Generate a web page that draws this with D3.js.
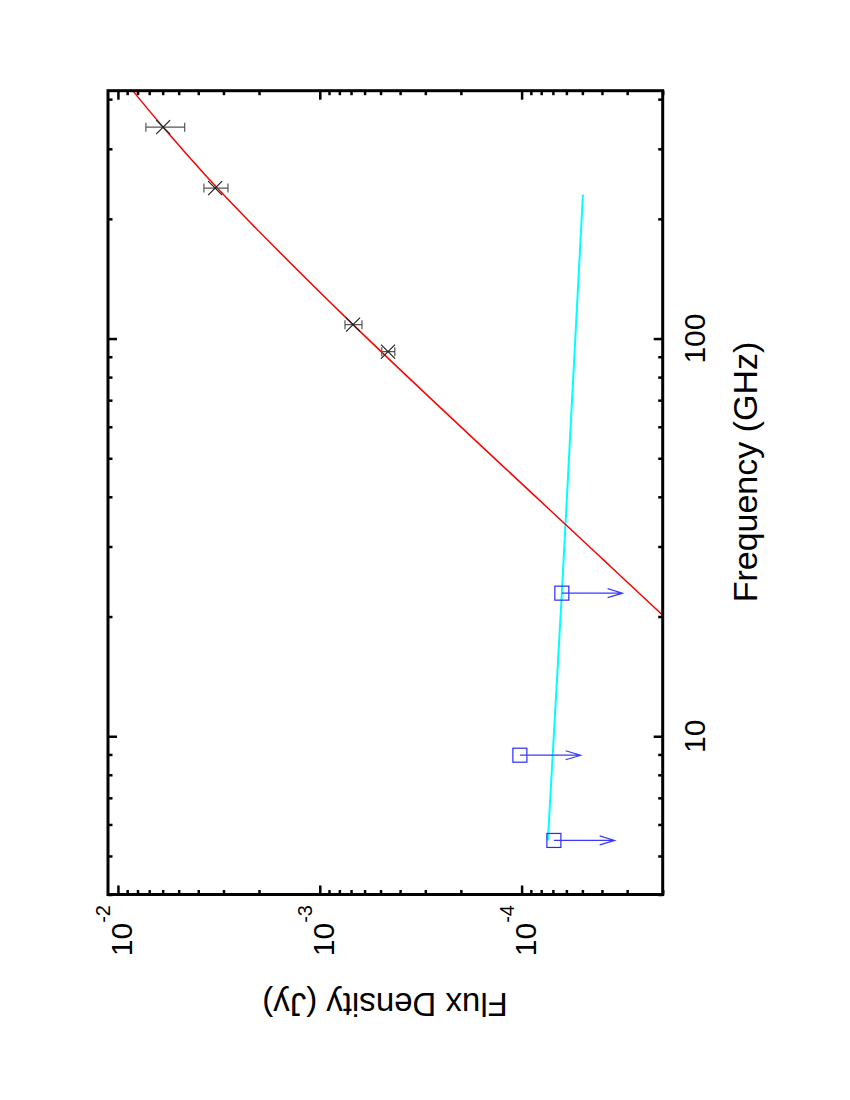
<!DOCTYPE html>
<html>
  <head>
    <style>
      body { margin: 0; background: #ffffff; }
      * { font-family: "Liberation Sans", Arial, sans-serif; }
    </style>
    <script src="https://d3js.org/d3.v7.min.js"></script>
  </head>
  <body>
    <div id="chart"></div>
    <script>
      // tick labels
      const fluxTicks = [1e-2, 1e-3, 1e-4],
            fluxTickExp = ["-2", "-3", "-4"]
      const freqTicks = [10, 100],
            freqTickLabels = ["10", "100"]

      // detections (GHz, Jy) with symmetric errors
      const detFreq = [92.7, 108.4, 239, 340]
      const detFlux = [4.59e-4, 6.84e-4, 3.30e-3, 5.97e-3]
      const detErr  = [0.34e-4, 0.66e-4, 0.45e-3, 1.3e-3]

      // upper limits
      const limFreq = [5.47, 8.96, 22.9]
      const limFlux = [6.92e-5, 1.02e-4, 6.32e-5]

      // red fit
      const dustFreq = [20.3, 27.8, 108.4, 239, 340, 419.6]
      const dustFlux = [2.03e-5, 3.94e-5, 6.84e-4, 3.22e-3, 5.97e-3, 8.43e-3]

      // cyan fit
      const ffFreq = [5.47, 22.9, 230]
      const ffFlux = [7.41e-5, 6.32e-5, 4.97e-5]

      var w = 850, h = 1100
      var frame = {left: 108, right: 662.7, top: 90.7, bottom: 894.5}

      var svg = d3.select("#chart").append("svg")
        .attr("width", w).attr("height", h)

      // page is rotated: flux runs right->left, frequency runs bottom->top
      var x = d3.scaleLog().domain([2e-5, 0.0112]).range([frame.right, frame.left])
      var y = d3.scaleLog().domain([4, 420]).range([frame.bottom, frame.top])

      function isMajor(v) { return Math.abs(Math.log10(v) - Math.round(Math.log10(v))) < 1e-9 }
      var fluxMinor = x.ticks().filter(v => !isMajor(v))
      var freqMinor = y.ticks().filter(v => !isMajor(v))

      function tickAxis(axisFn, scale, vals, size, tx, ty) {
        var g = svg.append("g")
          .attr("transform", "translate(" + tx + "," + ty + ")")
          .call(axisFn(scale).tickValues(vals).tickSize(size).tickFormat(""))
        g.select(".domain").remove()
        g.selectAll(".tick line").attr("stroke", "#000").attr("stroke-width", 2.5)
      }
      tickAxis(d3.axisBottom, x, fluxTicks, -9, 0, frame.bottom)
      tickAxis(d3.axisBottom, x, fluxMinor, -4.5, 0, frame.bottom)
      tickAxis(d3.axisTop, x, fluxTicks, -9, 0, frame.top)
      tickAxis(d3.axisTop, x, fluxMinor, -4.5, 0, frame.top)
      tickAxis(d3.axisLeft, y, freqTicks, -9, frame.left, 0)
      tickAxis(d3.axisLeft, y, freqMinor, -4.5, frame.left, 0)
      tickAxis(d3.axisRight, y, freqTicks, -9, frame.right, 0)
      tickAxis(d3.axisRight, y, freqMinor, -4.5, frame.right, 0)

      svg.append("clipPath").attr("id", "clip")
        .append("rect")
          .attr("x", frame.left).attr("y", frame.top)
          .attr("width", frame.right - frame.left)
          .attr("height", frame.bottom - frame.top)

      var plot = svg.append("g").attr("clip-path", "url(#clip)")

      var line = d3.line()
        .x(d => x(d[1]))
        .y(d => y(d[0]))

      plot.append("path")
        .datum(d3.zip(ffFreq, ffFlux))
        .attr("d", line)
        .style("fill", "none")
        .style("stroke", "#00ffff")
        .style("stroke-width", 2)

      plot.append("path")
        .datum(d3.zip(dustFreq, dustFlux))
        .attr("d", line.curve(d3.curveCatmullRom))
        .style("fill", "none")
        .style("stroke", "#ff0000")
        .style("stroke-width", 1.5)

      // upper limits: square + arrow down to half the flux
      var lims = plot.selectAll(".lim")
        .data(d3.zip(limFreq, limFlux))
        .enter().append("g")
          .attr("class", "lim")
      lims.append("rect")
        .attr("x", d => x(d[1]) - 7)
        .attr("y", d => y(d[0]) - 7)
        .attr("width", 14).attr("height", 14)
        .style("fill", "none").style("stroke", "#2a2aff").style("stroke-width", 1.2)
      lims.append("path")
        .attr("d", function(d) {
          var x0 = x(d[1]), x1 = x(d[1] / 2), yy = y(d[0])
          return "M" + x0 + "," + yy + "H" + x1 +
                 "M" + (x1 - 15) + "," + (yy - 4.5) + "L" + x1 + "," + yy + "L" + (x1 - 15) + "," + (yy + 4.5)
        })
        .style("fill", "none").style("stroke", "#3a3aff").style("stroke-width", 1.2)

      // detections with error bars
      var dets = plot.selectAll(".det")
        .data(d3.range(detFreq.length))
        .enter().append("g")
          .attr("class", "det")
      dets.append("path")
        .attr("d", function(i) {
          var xa = x(detFlux[i] + detErr[i]), xb = x(detFlux[i] - detErr[i]), yy = y(detFreq[i])
          return "M" + xa + "," + yy + "H" + xb +
                 "M" + xa + "," + (yy - 4.5) + "V" + (yy + 4.5) +
                 "M" + xb + "," + (yy - 4.5) + "V" + (yy + 4.5)
        })
        .style("fill", "none").style("stroke", "#555").style("stroke-width", 1.2)
      dets.append("path")
        .attr("d", function(i) {
          var cx = x(detFlux[i]), cy = y(detFreq[i])
          return "M" + (cx - 7) + "," + (cy - 7) + "L" + (cx + 7) + "," + (cy + 7) +
                 "M" + (cx - 7) + "," + (cy + 7) + "L" + (cx + 7) + "," + (cy - 7)
        })
        .style("fill", "none").style("stroke", "#222").style("stroke-width", 1.2)

      svg.append("rect")
        .attr("x", frame.left).attr("y", frame.top)
        .attr("width", frame.right - frame.left)
        .attr("height", frame.bottom - frame.top)
        .style("fill", "none").style("stroke", "#000").style("stroke-width", 3)

      // frequency tick labels
      svg.selectAll(".freqlab")
        .data(freqTicks)
        .enter().append("text")
          .attr("class", "freqlab")
          .attr("transform", d => "translate(705," + y(d) + ") rotate(-90)")
          .attr("text-anchor", "middle")
          .style("font-size", "30px")
          .text((d, i) => freqTickLabels[i])

      // flux tick labels 10^n
      var fl = svg.selectAll(".fluxlab")
        .data(fluxTicks)
        .enter().append("text")
          .attr("class", "fluxlab")
          .attr("transform", d => "translate(" + (x(d) + 14) + ",905) rotate(-90)")
          .attr("text-anchor", "end")
          .style("font-size", "30px")
      fl.append("tspan").text("10")
      fl.append("tspan")
        .attr("dy", -22)
        .style("font-size", "20px")
        .text((d, i) => fluxTickExp[i])

      svg.append("text")
        .attr("transform", "translate(757,472) rotate(-90)")
        .attr("text-anchor", "middle")
        .style("font-size", "34px")
        .text("Frequency (GHz)")

      svg.append("text")
        .attr("transform", "translate(385,993) rotate(180)")
        .attr("text-anchor", "middle")
        .style("font-size", "33px")
        .text("Flux Density (Jy)")
    </script>
  </body>
</html>
